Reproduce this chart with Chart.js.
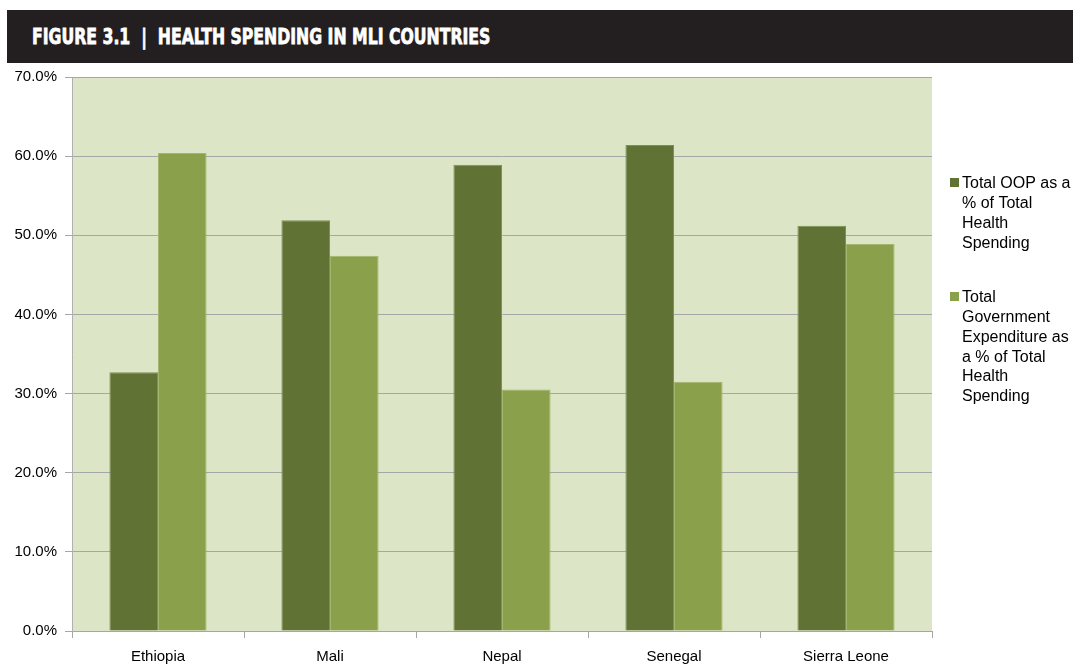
<!DOCTYPE html>
<html>
<head>
<meta charset="utf-8">
<script src="https://cdn.jsdelivr.net/npm/chart.js@4.4.0/dist/chart.umd.min.js"></script>
<style>
    body { margin: 0; background: #fff; width: 1073px; height: 664px; overflow: hidden; position: relative; }
    #header {
        position: absolute; left: 7px; top: 10px; width: 1066px; height: 53px;
        background: #231f20; color: #fff;
    }
    #title {
        position: absolute; left: 25px; top: 0; line-height: 53px; white-space: nowrap;
        font-family: "DejaVu Sans", sans-serif; font-weight: bold; font-size: 22px;
        -webkit-text-stroke: 0.8px #fff;
        transform-origin: left center;
    }
    #wrap { position: absolute; left: 0; top: 60px; width: 1073px; height: 604px; }
</style>
</head>
<body>
<div id="header"><span id="title">FIGURE 3.1 &nbsp;|&nbsp; HEALTH SPENDING IN MLI COUNTRIES</span></div>
<div id="wrap"><canvas id="chart"></canvas></div>
<script>
// data
var countries = ['Ethiopia', 'Mali', 'Nepal', 'Senegal', 'Sierra Leone'];
var oopShare = [32.7, 51.9, 58.9, 61.4, 51.2];
var govShare = [60.4, 47.4, 30.5, 31.5, 48.9];
var seriesNames = ['Total OOP as a % of Total Health Spending',
                   'Total Government Expenditure as a % of Total Health Spending'];
// legend lines as wrapped in the original
var legendLines = [
    ['Total OOP as a', '% of Total', 'Health', 'Spending'],
    ['Total', 'Government', 'Expenditure as', 'a % of Total', 'Health', 'Spending']
];

var darkGreen = '#617334';
var lightGreen = '#8aa04b';
var labelFont = '"Liberation Sans", Arial, sans-serif';

// squeeze the title into the condensed width of the original
var t = document.getElementById('title');
t.style.transform = 'scaleX(' + (458 / t.offsetWidth) + ')';

// paint the plot area background
var plotBg = {
    id: 'plotBg',
    beforeDraw: function (chart) {
        var a = chart.chartArea, c = chart.ctx;
        c.save();
        c.fillStyle = '#dde5c7';
        c.fillRect(a.left, a.top, a.right - a.left, a.bottom - a.top);
        c.restore();
    }
};

// legend with wrapped text on the right
var sideLegend = {
    id: 'sideLegend',
    afterDraw: function (chart) {
        var c = chart.ctx;
        var x = 950, lh = 19.7;
        var starts = [123, 237];
        c.save();
        c.font = '16px ' + labelFont;
        c.textBaseline = 'middle';
        chart.data.datasets.forEach(function (ds, i) {
            var y = starts[i];
            c.fillStyle = ds.backgroundColor;
            c.fillRect(x, y - 5, 9, 9);
            c.fillStyle = '#000';
            legendLines[i].forEach(function (line, j) {
                c.fillText(line, x + 12, y + 1 + j * lh);
            });
        });
        c.restore();
    }
};

var ctx = document.getElementById('chart').getContext('2d');
var chart = new Chart(ctx, {
    type: 'bar',
    data: {
        labels: countries,
        datasets: [{
            label: seriesNames[0],
            data: oopShare,
            backgroundColor: darkGreen,
            borderColor: '#7d8f55',
            borderWidth: 1,
            categoryPercentage: 0.565,
            barPercentage: 1.0
        }, {
            label: seriesNames[1],
            data: govShare,
            backgroundColor: lightGreen,
            borderColor: '#a3b56e',
            borderWidth: 1,
            categoryPercentage: 0.565,
            barPercentage: 1.0
        }]
    },
    options: {
        responsive: true,
        maintainAspectRatio: false,
        animation: false,
        layout: { padding: { top: 5, right: 141, left: 0, bottom: 0 } },
        plugins: {
            legend: { display: false },
            tooltip: { enabled: false }
        },
        scales: {
            x: {
                offset: true,
                grid: {
                    offset: true,
                    drawOnChartArea: false,
                    drawTicks: true,
                    tickLength: 7,
                    color: '#a6a6a6'
                },
                border: { color: '#a6a6a6' },
                ticks: {
                    color: '#000',
                    padding: 10,
                    font: { family: labelFont, size: 15 }
                },
                afterFit: function (s) { s.height = 33; }
            },
            y: {
                min: 0,
                max: 70,
                ticks: {
                    stepSize: 10,
                    color: '#000',
                    padding: 8,
                    font: { family: labelFont, size: 15 },
                    callback: function (v) { return v.toFixed(1) + '%'; }
                },
                grid: { color: '#a6a6a6', tickLength: 7, lineWidth: 1 },
                border: { color: '#b0b0b0' },
                afterFit: function (s) { s.width = 72; }
            }
        }
    },
    plugins: [plotBg, sideLegend]
});
</script>
</body>
</html>
